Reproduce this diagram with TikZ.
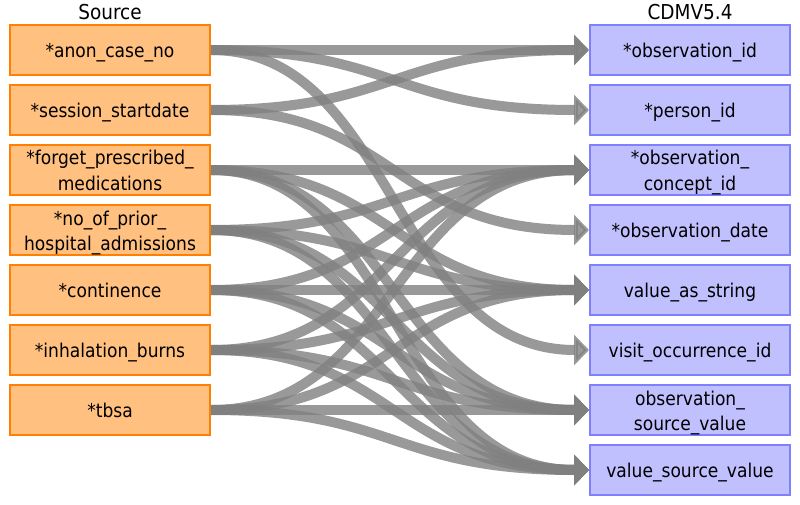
\documentclass[tikz,border=0pt]{standalone}
\usepackage{fontspec}
\setmainfont{DejaVu Sans}[FakeStretch=0.9]
\usetikzlibrary{arrows.meta}
\definecolor{srcfill}{RGB}{255,192,128}
\definecolor{srcdraw}{RGB}{255,128,0}
\definecolor{tgtfill}{RGB}{192,192,255}
\definecolor{tgtdraw}{RGB}{128,128,255}
\definecolor{flowgray}{RGB}{128,128,128}
\newcommand\twoline[2]{\makebox[0pt]{\raisebox{12.5pt}[0pt][0pt]{#1}}\makebox[0pt]{\raisebox{-12.5pt}[0pt][0pt]{#2}}}
\begin{document}
\begin{tikzpicture}[x=1pt,y=-1pt,
  box/.style={minimum width=200pt,minimum height=50pt,line width=2pt,inner sep=0pt,
    text height=15pt,text depth=0pt,font=\fontsize{19}{25}\selectfont},
  src/.style={box,fill=srcfill,draw=srcdraw},
  tgt/.style={box,fill=tgtfill,draw=tgtdraw},
  coltitle/.style={anchor=base,font=\fontsize{20.5}{24}\selectfont},
  flow/.style={draw=flowgray,line width=10pt,opacity=0.8,-{Triangle[length=15pt,width=30pt]}}]
\useasboundingbox (0,0) rectangle (800,505);
\node[coltitle] (srctitle) at (110,20) {Source};
\node[coltitle] (tgttitle) at (690,20) {CDMV5.4};
\node[src] (s1) at (110,50) {*anon\_case\_no};
\node[src] (s2) at (110,110) {*session\_startdate};
\node[src] (s3) at (110,170) {\twoline{*forget\_prescribed\_}{medications}};
\node[src] (s4) at (110,230) {\twoline{*no\_of\_prior\_}{hospital\_admissions}};
\node[src] (s5) at (110,290) {*continence};
\node[src] (s6) at (110,350) {*inhalation\_burns};
\node[src] (s7) at (110,410) {*tbsa};
\node[tgt] (t1) at (690,50) {*observation\_id};
\node[tgt] (t2) at (690,110) {*person\_id};
\node[tgt] (t3) at (690,170) {\twoline{*observation\_}{concept\_id}};
\node[tgt] (t4) at (690,230) {*observation\_date};
\node[tgt] (t5) at (690,290) {value\_as\_string};
\node[tgt] (t6) at (690,350) {visit\_occurrence\_id};
\node[tgt] (t7) at (690,410) {\twoline{observation\_}{source\_value}};
\node[tgt] (t8) at (690,470) {value\_source\_value};
\foreach \s/\t in {s1/t1,s1/t2,s1/t6,s2/t1,s2/t4,
  s3/t3,s3/t5,s3/t7,s3/t8,
  s4/t3,s4/t5,s4/t7,s4/t8,
  s5/t3,s5/t5,s5/t7,s5/t8,
  s6/t3,s6/t5,s6/t7,s6/t8,
  s7/t3,s7/t5,s7/t7,s7/t8}
  \draw[flow] (\s.east) .. controls +(184,0) and +(-196,0) .. (\t.west);
\end{tikzpicture}
\end{document}
